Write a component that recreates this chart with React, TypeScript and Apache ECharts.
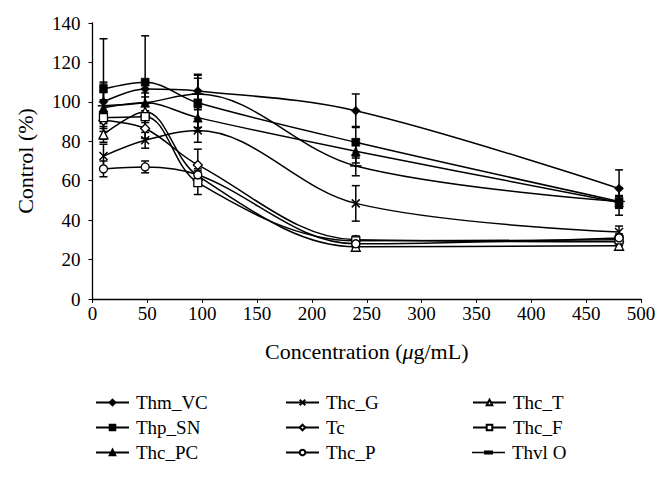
import React, { useEffect, useRef } from "react";
import * as echarts from "echarts";

const concentrations = [10, 48, 96, 240, 480];
const xTicks = [0, 50, 100, 150, 200, 250, 300, 350, 400, 450, 500];
const yTicks = [0, 20, 40, 60, 80, 100, 120, 140];

const thmVC = [100, 106.5, 105.5, 95.5, 56];
const thmVCErr = [10, 4, 8, 8.5, 9.5];
const thpSN = [106.5, 110, 99.5, 79.5, 49.5];
const thpSNErr = [25.5, 23.5, 14.5, 8, 7];
const thcPC = [97, 99.5, 92, 75, 49];
const thcPCErr = [12, 7, 5, 6, 3];
const thcG = [72.5, 80.5, 85.5, 48.5, 34];
const thcGErr = [6, 4, 6, 9, 3];
const tc = [90.5, 86.5, 68, 30, 29];
const tcErr = [4, 5, 8, 2, 2];
const thcT = [83.5, 95, 62.5, 26.5, 27];
const thcTErr = [4, 4, 5, 2, 2];
const thcF = [92, 92.5, 59, 29.5, 30];
const thcFErr = [3, 3, 6, 2, 2];
const thcP = [66, 67, 63, 28, 31];
const thcPErr = [4, 3, 3, 2, 2];
const thvlO = [98, 99.5, 104, 67.5, 49.5];
const thvlOErr = [3, 5, 8, 5, 3];

const legendCol1 = ["Thm_VC", "Thp_SN", "Thc_PC"];
const legendCol2 = ["Thc_G", "Tc", "Thc_P"];
const legendCol3 = ["Thc_T", "Thc_F"];
const legendCol3Last = "Thvl O";

const FONT = "Liberation Serif";

type Def = { name: string; values: number[]; err: number[]; symbol: string; size: any; open: boolean; stroke?: boolean; keep?: boolean };

const defs: Def[] = [
  { name: "Thm_VC", values: thmVC, err: thmVCErr, symbol: "diamond", size: 9, open: false },
  { name: "Thp_SN", values: thpSN, err: thpSNErr, symbol: "rect", size: 8, open: false },
  { name: "Thc_PC", values: thcPC, err: thcPCErr, symbol: "triangle", size: 9, open: false },
  { name: "Thc_G", values: thcG, err: thcGErr, symbol: "path://M0 0L10 10M10 0L0 10", size: 8, open: false, stroke: true },
  { name: "Tc", values: tc, err: tcErr, symbol: "diamond", size: 9, open: true },
  { name: "Thc_T", values: thcT, err: thcTErr, symbol: "triangle", size: 9, open: true },
  { name: "Thc_F", values: thcF, err: thcFErr, symbol: "rect", size: 8, open: true },
  { name: "Thc_P", values: thcP, err: thcPErr, symbol: "circle", size: 8, open: true },
  { name: "Thvl O", values: thvlO, err: thvlOErr, symbol: "path://M0 0H11V3H0Z", size: [11, 3], open: false, keep: true },
];

export default function App() {
  const ref = useRef<HTMLDivElement>(null);
  useEffect(() => {
    if (!ref.current) return;
    const chart = echarts.init(ref.current, undefined, { renderer: "svg" });

    const errData: number[][] = [];
    defs.forEach((d) => {
      d.values.forEach((v, i) => {
        errData.push([concentrations[i], v - d.err[i], v + d.err[i]]);
      });
    });

    const lineSeries = defs.map((d, k) => ({
      name: d.name,
      type: "line",
      smooth: 0.35,
      data: d.values.map((v, i) => [concentrations[i], v]),
      symbol: d.symbol,
      symbolSize: d.size,
      symbolKeepAspect: !!d.keep,
      showAllSymbol: true,
      z: 10 + k,
      lineStyle: { color: "#000", width: 1.5 },
      itemStyle: d.stroke
        ? { color: "#000", borderColor: "#000", borderWidth: 1.5 }
        : d.open
        ? { color: "#fff", borderColor: "#000", borderWidth: 1.3 }
        : { color: "#000", borderColor: "#000", borderWidth: 0.5 },
      emphasis: { disabled: true },
    }));

    const errSeries = {
      type: "custom",
      name: "err",
      data: errData,
      z: 5,
      silent: true,
      renderItem: (_params: any, api: any) => {
        const x = api.value(0);
        const lo = api.coord([x, api.value(1)]);
        const hi = api.coord([x, api.value(2)]);
        const w = 4;
        const style = { stroke: "#000", lineWidth: 1.5 };
        return {
          type: "group",
          children: [
            { type: "line", shape: { x1: lo[0], y1: lo[1], x2: hi[0], y2: hi[1] }, style },
            { type: "line", shape: { x1: lo[0] - w, y1: lo[1], x2: lo[0] + w, y2: lo[1] }, style },
            { type: "line", shape: { x1: hi[0] - w, y1: hi[1], x2: hi[0] + w, y2: hi[1] }, style },
          ],
        };
      },
    };

    const legendBase = {
      orient: "vertical",
      padding: 0,
      itemWidth: 33,
      itemHeight: 7,
      itemGap: 6,
      textStyle: { fontFamily: FONT, fontSize: 19, color: "#000", lineHeight: 19, padding: [0, 0, 0, 2] },
      selectedMode: false,
    };
    const legendTop = 393;
    const rowStep = 25;

    chart.setOption({
      animation: false,
      backgroundColor: "#fff",
      grid: { left: 92.5, right: 29, top: 23, bottom: 180, containLabel: false },
      xAxis: {
        type: "value",
        min: xTicks[0],
        max: xTicks[xTicks.length - 1],
        interval: 50,
        name: "{a|Concentration (}{i|μ}{a|g/mL)}",
        nameLocation: "middle",
        nameGap: 41,
        nameTextStyle: {
          rich: {
            a: { fontFamily: FONT, fontSize: 22, color: "#000" },
            i: { fontFamily: FONT, fontSize: 22, color: "#000", fontStyle: "italic" },
          },
        },
        axisLine: { show: true, lineStyle: { color: "#000", width: 1.3 } },
        axisTick: { show: true, inside: false, length: 4, lineStyle: { color: "#000" } },
        axisLabel: { fontFamily: FONT, fontSize: 19, color: "#000", margin: 5 },
        splitLine: { show: false },
      },
      yAxis: {
        type: "value",
        min: yTicks[0],
        max: yTicks[yTicks.length - 1],
        interval: 20,
        name: "Control (%)",
        nameLocation: "middle",
        nameGap: 56,
        nameTextStyle: { fontFamily: FONT, fontSize: 22, color: "#000" },
        axisLine: { show: true, lineStyle: { color: "#000", width: 1.3 } },
        axisTick: { show: true, inside: false, length: 4, lineStyle: { color: "#000" } },
        axisLabel: { fontFamily: FONT, fontSize: 19, color: "#000", margin: 12 },
        splitLine: { show: false },
      },
      legend: [
        { ...legendBase, left: 95, top: legendTop, data: legendCol1 },
        { ...legendBase, left: 285, top: legendTop, data: legendCol2 },
        { ...legendBase, left: 472, top: legendTop, data: legendCol3 },
        {
          ...legendBase,
          left: 472,
          top: legendTop + 2 * rowStep,
          itemHeight: 4,
          data: [{ name: legendCol3Last, icon: "path://M0 1.25H12V0H21V1.25H33V2.75H21V4H12V2.75H0Z", itemStyle: { color: "#000", borderWidth: 0 } }],
        },
      ],
      series: [errSeries, ...lineSeries],
    });

    return () => chart.dispose();
  }, []);

  return (
    <div
      ref={ref}
      style={{ position: "fixed", left: 0, top: 0, width: 670, height: 479, background: "#fff" }}
    />
  );
}
